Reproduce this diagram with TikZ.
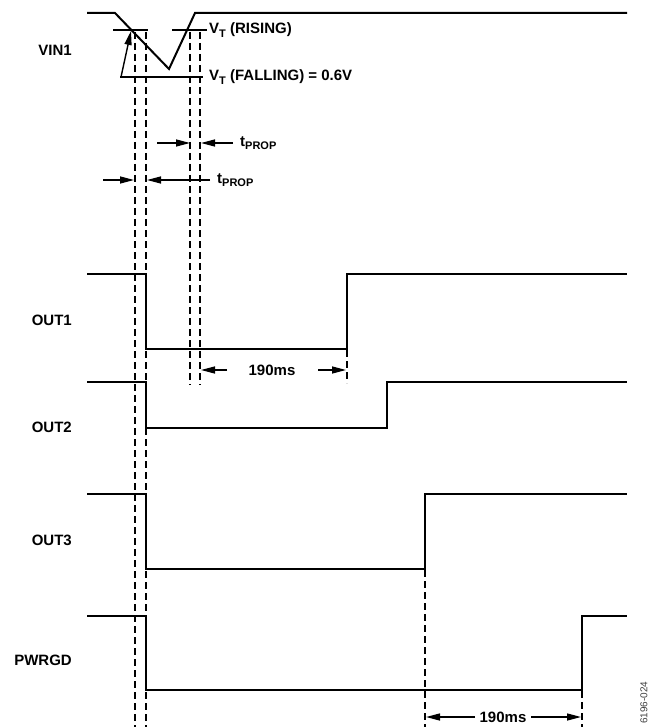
\documentclass[tikz,border=0pt]{standalone}
\usepackage{fontspec}
\setmainfont{Liberation Sans}
\usetikzlibrary{arrows.meta}
\newcommand{\lowsub}[1]{\raisebox{-0.4ex}{\fontsize{11}{12}\selectfont #1}}
\begin{document}
\begin{tikzpicture}[x=1pt,y=-1pt,
 wave/.style={line width=2pt, line join=miter},
 guide/.style={line width=1.1pt, dash pattern=on 7pt off 4pt},
 thr/.style={line width=1.3pt},
 dim/.style={line width=1.4pt, -{Triangle[length=14pt,width=7pt]}},
 lbl/.style={font=\fontsize{15}{18}\selectfont\bfseries, inner sep=0pt},
 tag/.style={font=\fontsize{10}{11}\selectfont, text=black!75, inner sep=0pt},
]
\useasboundingbox (0,0) rectangle (651,727);

% waveforms
\draw[wave] (87,13) -- (115,13) -- (169,69) -- (195,13) -- (627,13);
\draw[wave] (87,274) -- (146,274) -- (146,349) -- (347,349) -- (347,274) -- (627,274);
\draw[wave] (87,382) -- (146,382) -- (146,428) -- (387,428) -- (387,382) -- (627,382);
\draw[wave] (87,494) -- (146,494) -- (146,569) -- (425,569) -- (425,494) -- (627,494);
\draw[wave] (87,616) -- (146,616) -- (146,690) -- (582,690) -- (582,616) -- (627,616);

% signal labels
\node[lbl, anchor=east] (vin1) at (72,50) {VIN1};
\node[lbl, anchor=east] (out1) at (72,320) {OUT1};
\node[lbl, anchor=east] (out2) at (72,427) {OUT2};
\node[lbl, anchor=east] (out3) at (72,540) {OUT3};
\node[lbl, anchor=east] (pwrgd) at (72,660) {PWRGD};

% thresholds
\draw[thr] (113,30) -- (148,30);
\draw[thr] (172,30) -- (207,30);
\draw[thr] (120,77) -- (203,77);
\coordinate (hb) at (121,77);
\coordinate (ht) at (131,31);
\draw[dim] (hb) -- (ht);
\node[lbl, anchor=west] (vtr) at (209,30) {V\lowsub{T} (RISING)};
\node[lbl, anchor=west] (vtf) at (209,77) {V\lowsub{T} (FALLING) = 0.6V};

% guide lines
\draw[guide] (135,32) -- (135,727);
\draw[guide] (146,32) -- (146,727);
\draw[guide] (190,32) -- (190,385);
\draw[guide] (200,32) -- (200,385);
\draw[guide] (347,350) -- (347,383);
\draw[guide] (425,570) -- (425,727);
\draw[guide] (582,691) -- (582,727);

% tprop upper
\coordinate (a1) at (157,143); \coordinate (a1t) at (190,143);
\coordinate (a2) at (233,143); \coordinate (a2t) at (201,143);
\draw[dim] (a1) -- (a1t);
\draw[dim] (a2) -- (a2t);
\node[lbl, anchor=west] (tp1) at (240,143) {t\lowsub{PROP}};

% tprop lower
\coordinate (b1) at (103,180); \coordinate (b1t) at (134,180);
\coordinate (b2) at (210,180); \coordinate (b2t) at (147,180);
\draw[dim] (b1) -- (b1t);
\draw[dim] (b2) -- (b2t);
\node[lbl, anchor=west] (tp2) at (217,180) {t\lowsub{PROP}};

% 190ms upper
\node[lbl] (ms1) at (272,370) {190ms};
\coordinate (c1) at (227,370); \coordinate (c1t) at (201,370);
\coordinate (c2) at (318,370); \coordinate (c2t) at (346,370);
\draw[dim] (c1) -- (c1t);
\draw[dim] (c2) -- (c2t);

% 190ms lower
\node[lbl] (ms2) at (503,717) {190ms};
\coordinate (d1) at (475,717); \coordinate (d1t) at (426,717);
\coordinate (d2) at (531,717); \coordinate (d2t) at (581,717);
\draw[dim] (d1) -- (d1t);
\draw[dim] (d2) -- (d2t);

% figure tag
\node[tag, rotate=90, anchor=west] (fig) at (644,724) {6196-024};
\end{tikzpicture}
\end{document}
